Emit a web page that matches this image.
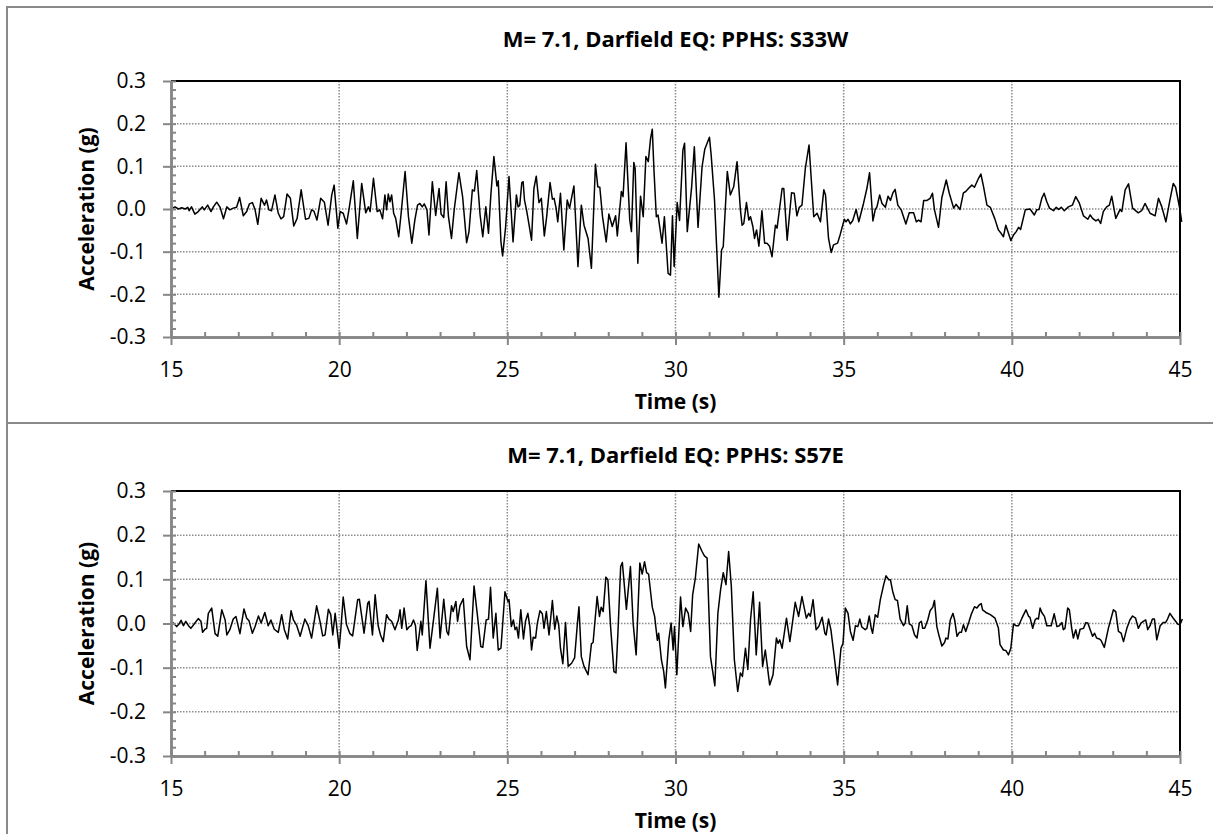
<!DOCTYPE html>
<html>
<head>
<meta charset="utf-8">
<script src="https://cdn.jsdelivr.net/npm/d3@7"></script>
<style>
  body { margin: 0; background: #fff; }
</style>
</head>
<body>
<div id="chart"></div>
<script>
const xTicks = [15, 20, 25, 30, 35, 40, 45]
const yTicks = [-0.3, -0.2, -0.1, 0.0, 0.1, 0.2, 0.3]

// digitised record, [time (s), acceleration (g)]
const s33w = [
  [15.00,0],[15.12,0.005],[15.22,0],[15.32,0.003],[15.42,0],[15.50,0.004],[15.54,-0.004],[15.61,0.005],[15.71,-0.012],[15.81,-0.006],
  [15.93,0.005],[15.99,-0.002],[16.09,0.009],[16.19,-0.006],[16.26,0.005],[16.36,0.016],[16.46,0.004],[16.56,-0.023],[16.66,0.005],[16.75,-0.002],
  [16.85,0.002],[16.95,0.004],[17.04,0.027],[17.15,-0.016],[17.25,-0.006],[17.33,0.012],[17.42,0.015],[17.50,-0.002],[17.58,-0.036],[17.68,0.025],
  [17.78,0.009],[17.84,0.021],[17.91,-0.002],[17.99,-0.004],[18.09,0.033],[18.19,-0.010],[18.27,-0.023],[18.35,-0.018],[18.45,0.035],[18.55,0.025],
  [18.65,-0.040],[18.75,-0.022],[18.87,0.045],[19.00,-0.024],[19.10,-0.022],[19.18,-0.002],[19.25,-0.005],[19.34,-0.026],[19.45,0.025],[19.56,0.016],
  [19.67,-0.038],[19.78,0.033],[19.85,0.056],[19.96,-0.045],[20.03,-0.006],[20.12,-0.010],[20.22,-0.035],[20.29,-0.002],[20.42,0.066],[20.54,-0.069],
  [20.67,0.060],[20.79,-0.009],[20.87,0.005],[20.92,-0.006],[21.02,0.072],[21.13,-0.006],[21.21,-0.002],[21.29,-0.023],[21.36,0.033],[21.41,-0.002],
  [21.46,0.035],[21.51,0.017],[21.56,0.033],[21.62,-0.010],[21.68,-0.022],[21.77,-0.065],[21.84,-0.012],[21.96,0.088],[22.06,-0.018],[22.16,-0.080],
  [22.25,-0.026],[22.33,0.009],[22.40,0.013],[22.47,0.005],[22.53,0.012],[22.61,-0.002],[22.67,-0.061],[22.77,0.064],[22.87,-0.015],[22.97,0.048],
  [23.03,-0.012],[23.11,-0.020],[23.18,0.064],[23.25,-0.018],[23.34,-0.069],[23.42,-0.002],[23.56,0.085],[23.67,0.029],[23.79,-0.079],[23.86,-0.053],
  [23.96,0.045],[24.02,0.042],[24.09,0.090],[24.19,-0.014],[24.27,-0.065],[24.36,0.005],[24.44,-0.057],[24.51,0.033],[24.60,0.123],[24.69,0.054],
  [24.73,0.066],[24.81,-0.077],[24.86,-0.110],[24.95,-0.041],
  [25.05,0.076],[25.17,-0.077],[25.27,0.033],[25.32,0.005],[25.37,0.009],[25.43,0.062],[25.47,0.064],[25.51,0.021],[25.57,-0.002],[25.64,-0.034],
  [25.72,-0.073],[25.79,0.048],[25.86,0.077],[25.94,0.015],[26.01,0.025],[26.10,-0.063],[26.17,-0.018],[26.27,0.062],[26.34,0.023],[26.39,0.025],
  [26.45,0.002],[26.50,-0.030],[26.58,0.037],[26.68,-0.096],[26.78,0.021],[26.85,0.002],[26.98,0.054],[27.10,-0.135],[27.20,0.009],[27.28,-0.038],
  [27.40,-0.069],[27.50,-0.139],[27.62,0.105],[27.69,0.052],[27.75,0.051],[27.83,-0.018],[27.94,-0.077],[28.02,-0.012],[28.12,-0.041],[28.22,-0.016],
  [28.27,-0.063],[28.39,0.041],[28.44,0.029],[28.53,0.155],[28.64,-0.026],[28.69,-0.053],[28.76,0.109],[28.80,0.095],[28.88,-0.127],[28.96,0.030],
  [29.04,-0.018],[29.12,0.123],[29.19,0.111],[29.26,0.166],[29.31,0.187],[29.36,0.091],[29.43,-0.018],[29.48,-0.014],[29.60,-0.080],[29.67,-0.018],
  [29.78,-0.151],[29.85,-0.155],[29.91,-0.016],[29.96,-0.135],[30.05,0.015],[30.12,-0.027],[30.22,0.138],[30.27,0.154],[30.35,-0.053],[30.48,0.052],
  [30.56,0.146],[30.67,-0.043],[30.79,0.099],[30.87,0.140],[30.94,0.154],[31.01,0.168],[31.06,0.127],[31.16,0.021],[31.29,-0.207],[31.37,-0.096],
  [31.42,-0.088],[31.54,0.088],[31.63,0.033],[31.73,0.052],[31.83,0.111],[31.93,-0.002],[31.98,-0.038],[32.03,-0.034],[32.11,0.015],[32.18,-0.026],
  [32.23,-0.018],[32.30,-0.041],[32.35,-0.069],[32.41,-0.049],[32.48,-0.087],[32.57,-0.004],[32.65,-0.080],[32.72,-0.080],[32.80,-0.088],[32.87,-0.112],
  [32.97,-0.038],[33.02,-0.045],[33.17,0.048],[33.22,0.048],[33.32,-0.073],[33.45,0.038],[33.53,0.037],[33.61,-0.016],[33.68,0.004],[33.76,0.009],
  [33.86,0.095],[33.97,0.150],[34.11,-0.018],[34.21,-0.010],[34.31,-0.030],[34.41,0.045],[34.46,0.033],[34.55,-0.069],[34.63,-0.102],[34.70,-0.084],
  [34.82,-0.080],[34.90,-0.059],[35.02,-0.024],
  [35.07,-0.030],[35.13,-0.024],[35.20,-0.035],[35.27,-0.027],[35.37,-0.001],[35.45,-0.030],[35.59,0.013],[35.69,0.048],[35.77,0.085],[35.87,-0.028],
  [35.94,-0.001],[35.99,0.005],[36.07,0.033],[36.14,0.013],[36.24,0.004],[36.32,0.030],[36.39,0.020],[36.46,0.037],[36.53,0.046],[36.61,0.009],
  [36.71,-0.002],[36.85,-0.035],[36.95,-0.009],[37.08,-0.009],[37.16,-0.030],[37.23,-0.026],[37.30,-0.030],[37.38,0.020],[37.48,0.020],[37.57,0.025],
  [37.64,0.037],[37.70,-0.002],[37.82,-0.043],[37.92,0.027],[38.05,0.068],[38.14,0.037],[38.27,0.002],[38.34,0.011],[38.46,-0.001],[38.56,0.038],
  [38.63,0.041],[38.71,0.048],[38.81,0.056],[38.89,0.051],[39.01,0.072],[39.08,0.082],[39.16,0.052],[39.26,0.009],[39.36,0.004],[39.49,-0.022],
  [39.60,-0.049],[39.68,-0.057],[39.75,-0.065],[39.82,-0.038],[39.90,-0.057],[39.97,-0.074],[40.05,-0.061],[40.13,-0.053],[40.20,-0.043],[40.26,-0.048],
  [40.40,-0.002],[40.54,0.000],[40.67,-0.014],[40.74,-0.002],[40.81,-0.001],[40.89,0.025],[40.96,0.037],[41.04,0.017],[41.12,0.002],[41.24,-0.004],
  [41.32,0.004],[41.39,-0.001],[41.47,0.004],[41.56,-0.004],[41.68,0.005],[41.80,0.009],[41.90,0.029],[42.00,0.015],[42.13,-0.016],[42.26,-0.024],
  [42.33,-0.014],[42.40,-0.022],[42.50,-0.028],[42.57,-0.024],[42.64,-0.034],[42.72,-0.006],[42.82,0.005],[42.90,0.009],[42.97,0.030],[43.09,-0.022],
  [43.22,-0.001],[43.27,-0.006],[43.37,0.045],[43.47,0.059],[43.59,0.002],[43.76,-0.009],[43.86,-0.004],[43.96,0.013],[44.11,-0.010],[44.26,-0.016],
  [44.36,0.025],[44.46,0.005],[44.58,-0.030],[44.70,0.021],[44.80,0.060],[44.87,0.051],[45.00,-0.002],[45.05,-0.030]
]

const s57e = [
  [15.00,-0.001],[15.07,0.001],[15.17,-0.007],[15.24,-0.001],[15.30,0.007],[15.37,-0.005],[15.44,0.005],[15.52,-0.005],[15.59,-0.011],[15.69,-0.001],
  [15.81,0.011],[15.89,0.005],[15.94,-0.020],[16.01,-0.013],[16.06,-0.011],[16.11,0.023],[16.21,0.035],[16.31,-0.023],[16.39,-0.029],[16.51,0.031],
  [16.61,0.008],[16.66,-0.026],[16.75,-0.014],[16.85,0.010],[16.93,0.016],[17.05,-0.023],[17.17,0.033],[17.25,0.012],[17.32,0.006],[17.42,-0.022],
  [17.50,-0.007],[17.60,0.017],[17.68,0.001],[17.79,0.025],[17.89,-0.005],[17.97,0.008],[18.07,-0.013],[18.19,-0.020],[18.29,0.020],[18.37,-0.014],
  [18.47,-0.035],[18.57,0.029],[18.64,0.008],[18.74,-0.005],[18.84,-0.029],[18.98,0.010],[19.08,-0.005],[19.18,-0.033],[19.33,0.040],[19.43,0.005],
  [19.51,-0.028],[19.58,-0.026],[19.68,0.032],[19.75,0.020],[19.81,-0.026],[19.88,0.023],[19.95,-0.022],[20.00,-0.056],[20.05,-0.013],[20.12,0.060],
  [20.22,-0.003],[20.32,-0.023],[20.40,-0.028],[20.55,0.054],[20.60,0.055],[20.74,-0.022],[20.85,0.046],[20.89,0.050],[20.99,-0.026],[21.07,0.065],
  [21.16,-0.005],[21.23,-0.026],[21.31,-0.041],[21.41,0.020],[21.48,0.010],[21.56,0.005],[21.66,-0.014],[21.76,0.008],[21.81,0.031],[21.86,-0.011],
  [21.93,0.035],[22.01,-0.014],[22.09,-0.007],[22.14,-0.005],[22.21,0.008],[22.27,-0.005],[22.32,-0.061],[22.43,0.005],[22.47,-0.026],[22.58,0.097],
  [22.70,-0.056],[22.80,0.005],[22.92,0.080],[23.00,-0.033],[23.11,0.055],[23.20,-0.018],[23.25,-0.026],[23.34,0.040],[23.39,0.027],[23.47,0.050],
  [23.52,0.005],[23.59,0.040],[23.69,0.056],[23.79,-0.052],[23.89,-0.082],[24.01,0.085],[24.11,0.019],[24.21,-0.052],[24.27,-0.054],[24.37,0.008],
  [24.44,0.010],[24.50,0.082],[24.58,-0.033],[24.66,0.023],[24.73,-0.060],[24.81,-0.056],[24.93,0.072],[25.02,0.050],
  [25.05,0.054],[25.12,-0.007],[25.18,0.008],[25.23,-0.014],[25.28,-0.008],[25.33,-0.033],[25.40,0.031],[25.48,-0.035],[25.54,0.005],[25.61,0.023],
  [25.67,-0.007],[25.72,-0.060],[25.77,-0.031],[25.84,-0.033],[25.89,-0.001],[25.97,0.029],[26.04,0.022],[26.09,-0.011],[26.16,0.027],[26.24,-0.026],
  [26.34,0.052],[26.41,-0.013],[26.47,0.017],[26.53,-0.005],[26.58,-0.056],[26.65,-0.091],[26.73,0.002],[26.81,-0.097],[26.91,-0.090],[27.00,-0.078],
  [27.08,-0.003],[27.13,0.038],[27.20,-0.075],[27.28,-0.097],[27.40,-0.116],[27.50,-0.046],[27.55,-0.043],[27.67,0.061],[27.74,0.016],[27.79,0.037],
  [27.85,0.027],[27.93,0.105],[27.99,0.099],[28.07,-0.007],[28.17,-0.109],[28.23,-0.112],[28.29,-0.018],[28.37,0.129],[28.42,0.138],[28.54,0.032],
  [28.66,0.129],[28.74,0.001],[28.83,-0.071],[28.94,0.137],[29.01,0.112],[29.08,0.140],[29.14,0.115],[29.20,0.112],[29.31,0.037],[29.38,0.016],
  [29.46,-0.038],[29.50,-0.022],[29.58,-0.082],[29.65,-0.109],[29.70,-0.146],[29.80,-0.037],[29.87,0.001],[29.93,-0.060],[29.97,-0.007],[30.04,-0.116],
  [30.15,0.060],[30.22,-0.007],[30.30,0.035],[30.38,0.023],[30.45,-0.018],[30.51,0.065],[30.59,0.103],[30.69,0.180],[30.79,0.163],[30.86,0.153],
  [30.94,0.148],[31.04,-0.075],[31.17,-0.141],[31.26,0.023],[31.34,0.076],[31.42,0.115],[31.50,0.088],[31.58,0.163],[31.66,0.084],[31.75,-0.082],
  [31.85,-0.154],[31.93,-0.112],[31.99,-0.120],[32.08,-0.056],[32.15,-0.104],[32.23,0.008],[32.31,0.072],[32.40,-0.071],[32.50,0.048],[32.59,-0.097],
  [32.67,-0.060],[32.80,-0.139],[32.90,-0.116],[33.00,-0.033],[33.05,-0.045],[33.10,-0.037],[33.17,-0.056],[33.30,0.012],[33.40,-0.041],[33.56,0.048],
  [33.66,0.016],[33.76,0.061],[33.89,0.012],[33.96,0.023],[34.01,0.016],[34.09,0.054],[34.18,-0.014],[34.26,-0.007],[34.36,0.014],[34.44,-0.022],
  [34.48,-0.026],[34.55,0.010],[34.62,-0.014],[34.72,-0.075],[34.82,-0.139],[34.92,-0.056],[34.98,-0.045],[35.05,0.035],
  [35.13,0.023],[35.20,-0.018],[35.28,-0.038],[35.35,-0.005],[35.42,-0.007],[35.48,0.010],[35.54,-0.008],[35.64,-0.014],[35.69,-0.011],[35.76,0.017],
  [35.82,-0.011],[35.86,-0.022],[35.94,0.020],[36.01,0.014],[36.09,0.054],[36.19,0.088],[36.26,0.108],[36.34,0.099],[36.39,0.099],[36.46,0.072],
  [36.53,0.054],[36.60,0.052],[36.68,0.010],[36.78,-0.005],[36.83,0.001],[36.89,0.040],[36.95,-0.001],[37.03,-0.005],[37.11,-0.026],[37.18,-0.033],
  [37.25,0.001],[37.31,0.005],[37.35,-0.011],[37.41,-0.011],[37.50,0.008],[37.57,0.029],[37.65,0.037],[37.70,0.052],[37.77,-0.007],[37.84,-0.029],
  [37.92,-0.051],[38.00,-0.043],[38.04,-0.033],[38.10,-0.035],[38.17,0.008],[38.25,0.023],[38.30,0.008],[38.37,-0.029],[38.44,-0.020],[38.50,-0.020],
  [38.56,-0.003],[38.63,-0.018],[38.73,0.005],[38.79,0.020],[38.89,0.038],[38.96,0.035],[39.03,0.042],[39.09,0.045],[39.13,0.031],[39.23,0.025],
  [39.36,0.020],[39.50,0.012],[39.60,-0.010],[39.65,-0.048],[39.75,-0.060],[39.82,-0.061],[39.90,-0.071],[39.97,-0.056],[40.05,-0.001],[40.12,-0.005],
  [40.20,-0.005],[40.30,0.012],[40.42,0.031],[40.50,0.016],[40.54,0.014],[40.62,-0.011],[40.69,0.008],[40.74,0.012],[40.79,0.010],[40.84,0.035],
  [40.89,0.025],[40.97,0.016],[41.04,-0.005],[41.12,-0.005],[41.17,-0.005],[41.26,0.022],[41.34,-0.007],[41.41,-0.005],[41.49,0.002],[41.53,-0.014],
  [41.58,-0.011],[41.66,0.035],[41.71,0.031],[41.78,-0.011],[41.83,-0.033],[41.90,-0.014],[41.96,-0.035],[42.03,-0.013],[42.13,-0.011],[42.20,0.002],
  [42.26,0.001],[42.33,-0.014],[42.40,-0.029],[42.46,-0.022],[42.52,-0.033],[42.60,-0.035],[42.65,-0.038],[42.75,-0.054],[42.87,-0.011],[43.02,0.031],
  [43.09,0.027],[43.17,-0.018],[43.25,-0.022],[43.32,-0.041],[43.42,-0.011],[43.51,0.008],[43.59,0.017],[43.68,0.012],[43.76,-0.011],[43.84,0.001],
  [43.91,0.005],[43.98,0.008],[44.04,-0.014],[44.11,-0.005],[44.18,0.010],[44.24,0.010],[44.31,-0.037],[44.41,-0.005],[44.50,0.002],[44.57,0.002],
  [44.63,0.010],[44.70,0.023],[44.80,0.012],[44.87,0.005],[44.93,-0.001],[45.00,-0.003],[45.07,0.010]
]

const width = 1213
const height = 834
const plotLeft = 171
const plotRight = 1180
const font = "'Open Sans', 'DejaVu Sans', sans-serif"
const axisGrey = '#868686'

const panels = [
  { title: 'M= 7.1, Darfield EQ: PPHS: S33W', data: s33w, top: 7, bottom: 423, plotTop: 81, plotBottom: 337 },
  { title: 'M= 7.1, Darfield EQ: PPHS: S57E', data: s57e, top: 423, bottom: 845, plotTop: 491, plotBottom: 756 }
]

const svg = d3
  .select('#chart')
  .append('svg')
  .attr('width', width)
  .attr('height', height)

svg
  .append('rect')
  .attr('width', width)
  .attr('height', height)
  .attr('fill', '#fff')

const xPositionScale = d3
  .scaleLinear()
  .domain([15, 45])
  .range([plotLeft, plotRight])

panels.forEach(p => {
  const g = svg.append('g')

  // panel frame
  g.append('rect')
    .attr('x', 7)
    .attr('y', p.top)
    .attr('width', width + 10)
    .attr('height', p.bottom - p.top)
    .attr('fill', 'none')
    .attr('stroke', '#8a8a8a')
    .attr('stroke-width', 2)

  const yPositionScale = d3
    .scaleLinear()
    .domain([-0.3, 0.3])
    .range([p.plotBottom, p.plotTop])

  // dotted grid
  g.selectAll('.hgrid')
    .data(yTicks.filter(d => Math.abs(d) < 0.25))
    .enter()
    .append('line')
    .attr('x1', plotLeft)
    .attr('x2', plotRight)
    .attr('y1', d => yPositionScale(d))
    .attr('y2', d => yPositionScale(d))
    .attr('stroke', '#8c8c8c')
    .attr('stroke-width', 1.5)
    .attr('stroke-dasharray', '1.5,1.5')

  g.selectAll('.vgrid')
    .data(xTicks.slice(1, -1))
    .enter()
    .append('line')
    .attr('x1', d => xPositionScale(d))
    .attr('x2', d => xPositionScale(d))
    .attr('y1', p.plotTop)
    .attr('y2', p.plotBottom)
    .attr('stroke', '#8c8c8c')
    .attr('stroke-width', 1.5)
    .attr('stroke-dasharray', '1.5,1.5')

  // top and right border of the plot area
  g.append('path')
    .attr('d', `M${plotLeft},${p.plotTop}H${plotRight}V${p.plotBottom}`)
    .attr('fill', 'none')
    .attr('stroke', '#000')
    .attr('stroke-width', 2)

  const line = d3
    .line()
    .x(d => xPositionScale(d[0]))
    .y(d => yPositionScale(d[1]))

  g.append('path')
    .datum(p.data)
    .attr('d', line)
    .attr('fill', 'none')
    .attr('stroke', '#000')
    .attr('stroke-width', 1.5)
    .attr('stroke-linejoin', 'round')

  // minor ticks point inward, major ticks outward
  const yMinor = d3
    .axisLeft(yPositionScale)
    .tickValues(d3.range(-0.3, 0.301, 0.02))
    .tickSize(-5)
    .tickSizeOuter(0)
    .tickFormat('')

  const yAxis = d3
    .axisLeft(yPositionScale)
    .tickValues(yTicks)
    .tickSize(8)
    .tickSizeOuter(0)
    .tickPadding(17)
    .tickFormat(d => d.toFixed(1))

  const xMinor = d3
    .axisBottom(xPositionScale)
    .tickValues(d3.range(15, 45.01, 1))
    .tickSize(-5)
    .tickSizeOuter(0)
    .tickFormat('')

  const xAxis = d3
    .axisBottom(xPositionScale)
    .tickValues(xTicks)
    .tickSize(8)
    .tickSizeOuter(0)
    .tickPadding(17)

  g.append('g')
    .attr('transform', `translate(${plotLeft},0)`)
    .call(yMinor)
  g.append('g')
    .attr('class', 'axis')
    .attr('transform', `translate(${plotLeft},0)`)
    .call(yAxis)
  g.append('g')
    .attr('transform', `translate(0,${p.plotBottom})`)
    .call(xMinor)
  g.append('g')
    .attr('class', 'axis')
    .attr('transform', `translate(0,${p.plotBottom})`)
    .call(xAxis)

  g.selectAll('.domain')
    .attr('stroke', axisGrey)
    .attr('stroke-width', 2.5)
  g.selectAll('.tick line')
    .attr('stroke', axisGrey)
    .attr('stroke-width', 2)
  g.selectAll('.axis text')
    .attr('fill', '#000')
    .attr('font-family', font)
    .attr('font-size', 21)

  g.append('text')
    .text(p.title)
    .attr('x', (plotLeft + plotRight) / 2)
    .attr('y', p.top + 40)
    .attr('text-anchor', 'middle')
    .attr('font-family', font)
    .attr('font-weight', 'bold')
    .attr('font-size', 22)

  g.append('text')
    .text('Time (s)')
    .attr('x', (plotLeft + plotRight) / 2)
    .attr('y', p.plotBottom + 72)
    .attr('text-anchor', 'middle')
    .attr('font-family', font)
    .attr('font-weight', 'bold')
    .attr('font-size', 21)

  g.append('text')
    .text('Acceleration (g)')
    .attr('transform', `translate(94,${(p.plotTop + p.plotBottom) / 2}) rotate(-90)`)
    .attr('text-anchor', 'middle')
    .attr('font-family', font)
    .attr('font-weight', 'bold')
    .attr('font-size', 21)
})
</script>
</body>
</html>
